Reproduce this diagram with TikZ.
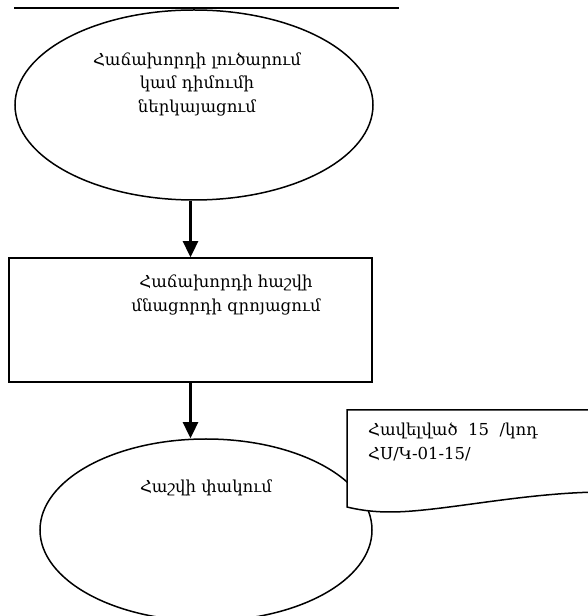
\documentclass[tikz,border=0pt]{standalone}
\usepackage{fontspec}
\setmainfont{DejaVu Serif}
\usetikzlibrary{shapes.geometric,arrows.meta}
\begin{document}
\begin{tikzpicture}[x=1pt,y=1pt,
  line/.style={draw=black,line width=1.5pt},
  conn/.style={draw=black,line width=2.4pt,-{Triangle[length=16pt,width=15pt]}},
  txt/.style={font=\fontsize{16.5}{23.5}\selectfont,align=center,inner sep=0pt},
  oval/.style={ellipse,line,fill=white,inner sep=0pt}]
\useasboundingbox (0,0) rectangle (588,616);
\clip (0,0) rectangle (588,616);
% top rule
\coordinate (rl) at (14,608);
\coordinate (rr) at (399,608);
\draw[line width=1.8pt] (rl) -- (rr);
% first ellipse
\node[oval,minimum width=358pt,minimum height=190pt] (e1) at (194,511) {};
\node[txt] (t1) at (197,532) {Հաճախորդի լուծարում\\կամ դիմումի\\ներկայացում};
% box
\node[line,rectangle,minimum width=363pt,minimum height=124pt,inner sep=0pt] (b1) at (190.5,296) {};
\node[txt] (t2) at (226,321) {Հաճախորդի հաշվի\\մնացորդի զրոյացում};
% second ellipse
\node[oval,minimum width=332pt,minimum height=182pt] (e2) at (206,86) {};
\node[txt] (t3) at (206,128) {Հաշվի փակում};
% document shape
\coordinate (d1) at (347,206);
\coordinate (d2) at (600,206);
\coordinate (d3) at (600,124);
\coordinate (d4) at (347,109);
\draw[line,fill=white] (d4) -- (d1) -- (d2) -- (d3)
  .. controls (520,123) and (440,104) .. (390,104)
  .. controls (370,104) and (355,107) .. (d4) -- cycle;
\node[txt,align=left,anchor=north west] (t4) at (368,193) {Հավելված\ \ 15\ \ /կոդ\\ՀՍ/Կ-01-15/};
% connectors
\draw[conn] (b1.north |- e1.south) -- (b1.north);
\draw[conn] (b1.south) -- (b1.south |- e2.north);
\end{tikzpicture}
\end{document}
